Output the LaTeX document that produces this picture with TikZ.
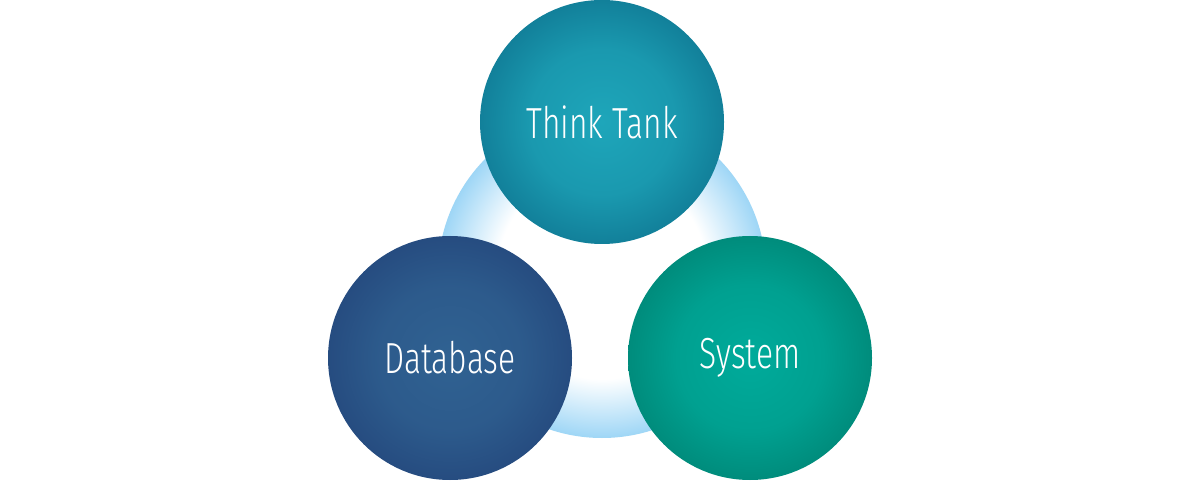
\documentclass[tikz,border=0pt]{standalone}
\usepackage{fontspec}
\newfontfamily\labfont{Fira Sans Light}[FakeStretch=0.73]
\definecolor{ringblue}{RGB}{158,214,246}
\definecolor{ttin}{RGB}{30,166,186}
\definecolor{ttout}{RGB}{18,128,154}
\definecolor{dbin}{RGB}{48,98,146}
\definecolor{dbout}{RGB}{38,76,128}
\definecolor{syin}{RGB}{0,171,155}
\definecolor{syout}{RGB}{0,140,124}
\pgfdeclareradialshading{ringshade}{\pgfpoint{0bp}{0bp}}{color(0bp)=(white); color(16bp)=(white); color(25bp)=(ringblue); color(50bp)=(ringblue)}
\pgfdeclareradialshading{ttshade}{\pgfpoint{0bp}{0bp}}{color(0bp)=(ttin); color(15bp)=(ttin!65!ttout); color(25bp)=(ttout); color(50bp)=(ttout)}
\pgfdeclareradialshading{dbshade}{\pgfpoint{0bp}{0bp}}{color(0bp)=(dbin); color(15bp)=(dbin!65!dbout); color(25bp)=(dbout); color(50bp)=(dbout)}
\pgfdeclareradialshading{syshade}{\pgfpoint{0bp}{0bp}}{color(0bp)=(syin); color(15bp)=(syin!65!syout); color(25bp)=(syout); color(50bp)=(syout)}
\tikzset{
  bubble/.style={circle, minimum size=244pt, inner sep=0pt, text=white,
    font=\labfont\fontsize{43.5}{50}\selectfont},
}
\begin{document}
\begin{tikzpicture}[x=1pt,y=1pt]
\useasboundingbox (0,0) rectangle (1200,480);
\fill[white] (0,0) rectangle (1200,480);
\node[circle, minimum size=328pt, inner sep=0pt, shading=ringshade] (ring) at (602,206) {};
\node[bubble, shading=ttshade] (tt) at (602,358) {Think Tank};
\node[bubble, shading=dbshade] (db) at (450,122) {Database};
\node[bubble, shading=syshade] (sy) at (750,122) {System};
\end{tikzpicture}
\end{document}
